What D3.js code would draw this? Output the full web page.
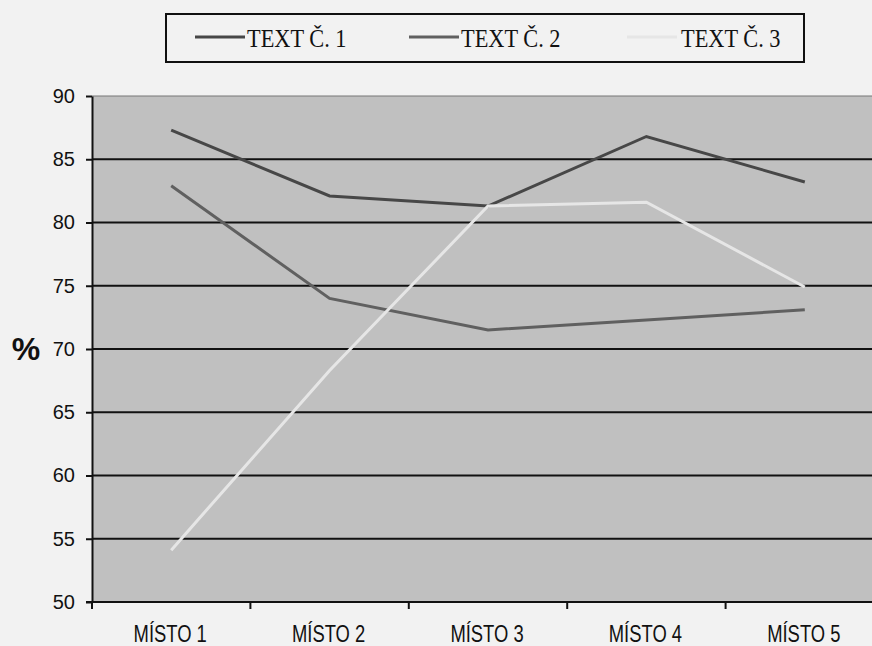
<!DOCTYPE html>
<html>
<head>
<meta charset="utf-8">
<script src="https://cdn.jsdelivr.net/npm/d3@7"></script>
<style>
  html, body { margin: 0; padding: 0; background: #f2f2f2; }
  svg { display: block; }
</style>
</head>
<body>
<svg id="chart" width="872" height="646"></svg>
<script>
// Categories, series and tick values
const categories = ["MÍSTO 1", "MÍSTO 2", "MÍSTO 3", "MÍSTO 4", "MÍSTO 5"];
const seriesNames = ["TEXT Č. 1", "TEXT Č. 2", "TEXT Č. 3"];
const text1 = [87.3, 82.1, 81.3, 86.8, 83.2];
const text2 = [82.9, 74.0, 71.5, 72.3, 73.1];
const text3 = [54.1, 68.3, 81.3, 81.6, 74.9];
const yTicks = [50, 55, 60, 65, 70, 75, 80, 85, 90];
const seriesColors = ["#474747", "#606060", "#e6e6e6"];

const series = [text1, text2, text3];

const svg = d3.select("#chart");
const plot = { left: 92, right: 884, top: 96, bottom: 602 };

const x = d3.scaleBand().domain(categories).range([plot.left, plot.right]).paddingInner(0).paddingOuter(0);
const y = d3.scaleLinear().domain([50, 90]).range([plot.bottom, plot.top]);

// Plot background
svg.append("rect")
  .attr("x", plot.left).attr("y", plot.top)
  .attr("width", plot.right - plot.left).attr("height", plot.bottom - plot.top)
  .attr("fill", "#c0c0c0");

// Horizontal gridlines
svg.append("g")
  .selectAll("line")
  .data(yTicks.filter(t => t > 50))
  .join("line")
  .attr("x1", plot.left).attr("x2", plot.right)
  .attr("y1", d => y(d)).attr("y2", d => y(d))
  .attr("stroke", d => d === 90 ? "#777" : "#111")
  .attr("stroke-width", d => d === 90 ? 1 : 2);

// Y axis
const yAxis = svg.append("g")
  .attr("transform", `translate(${plot.left},0)`)
  .call(d3.axisLeft(y).tickValues(yTicks).tickSize(6).tickPadding(11).tickSizeOuter(0));
yAxis.select(".domain").attr("stroke", "#111").attr("stroke-width", 2);
yAxis.selectAll(".tick line").attr("stroke", "#111").attr("stroke-width", 2);
yAxis.selectAll(".tick text")
  .attr("fill", "#111")
  .style("font-family", "'Liberation Sans', Arial, sans-serif")
  .style("font-size", "20px");

// X axis with ticks between categories
const xAxisG = svg.append("g").attr("transform", `translate(0,${plot.bottom})`);
xAxisG.append("line")
  .attr("x1", plot.left - 6).attr("x2", plot.right)
  .attr("stroke", "#111").attr("stroke-width", 2);
const boundaries = categories.map(c => x(c));
xAxisG.selectAll("line.tk")
  .data(boundaries)
  .join("line")
  .attr("class", "tk")
  .attr("x1", d => d).attr("x2", d => d)
  .attr("y1", 0).attr("y2", 7)
  .attr("stroke", "#111").attr("stroke-width", 2);
// Condensed category labels
const narrow = 0.8;
xAxisG.selectAll("text")
  .data(categories)
  .join("text")
  .attr("transform", d => `translate(${x(d) + x.bandwidth() / 2 - 1},40) scale(${narrow},1)`)
  .attr("text-anchor", "middle")
  .attr("fill", "#111")
  .style("font-family", "'Liberation Sans', Arial, sans-serif")
  .style("font-size", "23px")
  .text(d => d);

// Y axis title
svg.append("text")
  .attr("x", 26).attr("y", 360)
  .attr("text-anchor", "middle")
  .attr("fill", "#111")
  .style("font-family", "'Liberation Sans', Arial, sans-serif")
  .style("font-size", "32px")
  .style("font-weight", "bold")
  .text("%");

// Lines
const line = d3.line()
  .x((d, i) => x(categories[i]) + x.bandwidth() / 2)
  .y(d => y(d));

svg.append("g")
  .selectAll("path")
  .data(series)
  .join("path")
  .attr("d", d => line(d))
  .attr("fill", "none")
  .attr("stroke", (d, i) => seriesColors[i])
  .attr("stroke-width", 3)
  .attr("stroke-linejoin", "miter");

// Legend
const legend = svg.append("g");
legend.append("rect")
  .attr("x", 166).attr("y", 14)
  .attr("width", 638).attr("height", 48)
  .attr("fill", "#f2f2f2")
  .attr("stroke", "#111").attr("stroke-width", 2);

const legendX = [195, 409, 627];
const items = legend.selectAll("g.item")
  .data(seriesNames)
  .join("g")
  .attr("class", "item")
  .attr("transform", (d, i) => `translate(${legendX[i]},37)`);
items.append("line")
  .attr("x1", 0).attr("x2", 50)
  .attr("stroke", (d, i) => seriesColors[i])
  .attr("stroke-width", 3);
items.append("text")
  .attr("transform", (d, i) => `translate(${i === 2 ? 54 : 52},10) scale(0.86,1)`)
  .attr("fill", "#111")
  .style("font-family", "'Liberation Serif', 'Times New Roman', serif")
  .style("font-size", "26px")
  .text(d => d);
</script>
</body>
</html>
